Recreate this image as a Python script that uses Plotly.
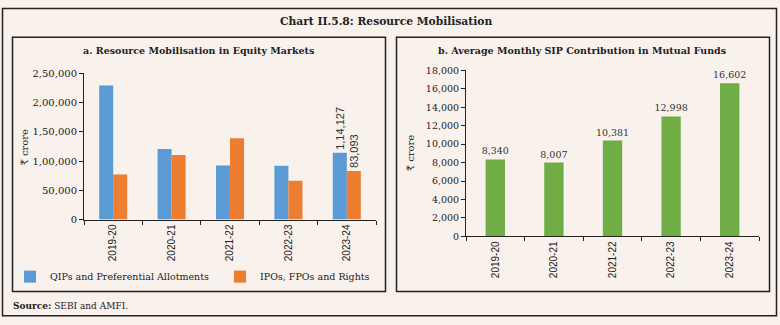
import plotly.graph_objects as go

years = ["2019-20", "2020-21", "2021-22", "2022-23", "2023-24"]
qips = [229500, 120500, 92500, 92000, 114127]
ipos = [77000, 110500, 139000, 66500, 83093]
qips_labels = ["", "", "", "", "1,14,127"]
ipos_labels = ["", "", "", "", "83,093"]
sip = [8340, 8007, 10381, 12998, 16602]
sip_labels = ["8,340", "8,007", "10,381", "12,998", "16,602"]

y1_ticks = [0, 50000, 100000, 150000, 200000, 250000]
y1_ticktext = ["0", "50,000", "1,00,000", "1,50,000", "2,00,000", "2,50,000"]
y2_ticks = [0, 2000, 4000, 6000, 8000, 10000, 12000, 14000, 16000, 18000]
y2_ticktext = ["0", "2,000", "4,000", "6,000", "8,000", "10,000", "12,000", "14,000", "16,000", "18,000"]

BG = "#f9f1ec"
SERIF = "DejaVu Serif"
SANS = "Liberation Sans"
W, H = 780, 325

def px(x):
    return x / W

def py(y):
    return 1 - y / H

fig = go.Figure()
fig.add_trace(go.Bar(x=years, y=qips, name="QIPs and Preferential Allotments",
                     marker=dict(color="#5b9bd5", line=dict(width=0)),
                     text=qips_labels, textposition="outside", textangle=-90,
                     constraintext="none",
                     textfont=dict(family=SANS, size=11, color="#333"),
                     xaxis="x", yaxis="y", cliponaxis=False))
fig.add_trace(go.Bar(x=years, y=ipos, name="IPOs, FPOs and Rights",
                     marker=dict(color="#ed7d31", line=dict(width=0)),
                     text=ipos_labels, textposition="outside", textangle=-90,
                     constraintext="none",
                     textfont=dict(family=SANS, size=11, color="#333"),
                     xaxis="x", yaxis="y", cliponaxis=False))
fig.add_trace(go.Bar(x=years, y=sip, name="SIP", showlegend=False,
                     marker=dict(color="#70ad47", line=dict(width=0)),
                     text=sip_labels, textposition="outside", textangle=0,
                     constraintext="none",
                     textfont=dict(family=SERIF, size=9.5, color="#333"),
                     xaxis="x2", yaxis="y2", cliponaxis=False, width=0.33))

axis_common = dict(showgrid=False, zeroline=False, showline=True, linecolor="#222",
                   linewidth=1, ticks="outside", ticklen=4, tickcolor="#222")

fig.update_layout(
    width=W, height=H, margin=dict(l=0, r=0, t=0, b=0),
    paper_bgcolor=BG, plot_bgcolor=BG,
    barmode="group", bargap=0.52, bargroupgap=0,
    font=dict(family=SERIF, color="#222"),
    xaxis=dict(domain=[px(84), px(376)], anchor="y", type="category",
               tickson="boundaries", tickangle=-90,
               tickfont=dict(family=SANS, size=10, color="#222"), **axis_common),
    yaxis=dict(domain=[py(221.7), py(70)], anchor="x", range=[0, 250000],
               tickvals=y1_ticks, ticktext=y1_ticktext,
               tickfont=dict(family=SERIF, size=10, color="#222"), **axis_common),
    xaxis2=dict(domain=[px(466), px(759)], anchor="y2", type="category",
                tickson="boundaries", tickangle=-90,
                tickfont=dict(family=SANS, size=10, color="#222"), **axis_common),
    yaxis2=dict(domain=[py(239.3), py(66.7)], anchor="x2", range=[0, 18000],
                tickvals=y2_ticks, ticktext=y2_ticktext,
                tickfont=dict(family=SERIF, size=9.5, color="#222"), **axis_common),
    legend=dict(orientation="h", x=px(10), y=py(281), yanchor="middle", xanchor="left",
                bgcolor="rgba(0,0,0,0)", entrywidth=165, entrywidthmode="pixels",
                font=dict(family=SERIF, size=9.5, color="#222"), itemclick=False),
    showlegend=True,
)

shapes = [
    dict(type="rect", xref="paper", yref="paper", x0=px(2.5), x1=px(776.5), y0=py(321.5), y1=py(2.5),
         line=dict(color="#222", width=1.5)),
    dict(type="rect", xref="paper", yref="paper", x0=px(12.5), x1=px(385.5), y0=py(296.5), y1=py(32.5),
         line=dict(color="#222", width=1.5)),
    dict(type="rect", xref="paper", yref="paper", x0=px(396.5), x1=px(769.5), y0=py(296.5), y1=py(32.5),
         line=dict(color="#222", width=1.5)),
]
fig.update_layout(shapes=shapes)

annotations = [
    dict(text="<b>Chart II.5.8: Resource Mobilisation</b>", x=px(386), y=py(16), xref="paper", yref="paper",
         showarrow=False, font=dict(family=SERIF, size=10.7, color="#222"), xanchor="center", yanchor="middle"),
    dict(text="<b>a. Resource Mobilisation in Equity Markets</b>", x=px(198), y=py(46), xref="paper", yref="paper",
         showarrow=False, font=dict(family=SERIF, size=9.5, color="#222"), xanchor="center", yanchor="middle"),
    dict(text="<b>b. Average Monthly SIP Contribution in Mutual Funds</b>", x=px(582), y=py(46), xref="paper", yref="paper",
         showarrow=False, font=dict(family=SERIF, size=9.5, color="#222"), xanchor="center", yanchor="middle"),
    dict(text="₹ crore", x=px(25), y=py(146), xref="paper", yref="paper", textangle=-90,
         showarrow=False, font=dict(family=SERIF, size=10, color="#222"), xanchor="center", yanchor="middle"),
    dict(text="₹ crore", x=px(410), y=py(153), xref="paper", yref="paper", textangle=-90,
         showarrow=False, font=dict(family=SERIF, size=10, color="#222"), xanchor="center", yanchor="middle"),
    dict(text="<b>Source:</b> SEBI and AMFI.", x=px(11), y=py(311), xref="paper", yref="paper",
         showarrow=False, font=dict(family=SERIF, size=9, color="#222"), xanchor="left", yanchor="middle"),
]
fig.update_layout(annotations=annotations)

fig.write_html("out.html")
